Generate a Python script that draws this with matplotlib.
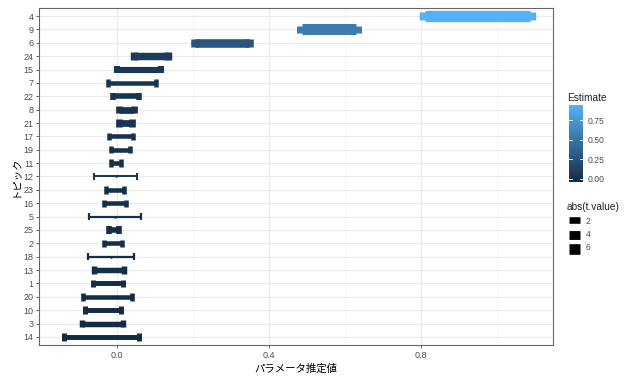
import numpy as np
import matplotlib
matplotlib.use('Agg')
import matplotlib.pyplot as plt
from matplotlib.colors import LinearSegmentedColormap, Normalize
from matplotlib.cm import ScalarMappable

plt.rcParams['font.family'] = ['Liberation Sans', 'Noto Sans CJK JP']

# Topic estimates, bottom row first
topics = ['14', '3', '10', '20', '1', '13', '18', '2', '25', '5', '16', '23', '12',
          '11', '19', '17', '21', '8', '22', '7', '15', '24', '6', '9', '4']
estimate = [-0.042, -0.040, -0.037, -0.026, -0.025, -0.021, -0.016, -0.012, -0.009, -0.006,
            -0.006, -0.005, -0.004, -0.003, 0.008, 0.010, 0.021, 0.024, 0.024, 0.039,
            0.056, 0.089, 0.276, 0.557, 0.947]
lower = [-0.140, -0.094, -0.086, -0.091, -0.065, -0.061, -0.077, -0.036, -0.023, -0.074,
         -0.035, -0.029, -0.060, -0.017, -0.016, -0.021, 0.004, 0.005, -0.010, -0.025,
         -0.002, 0.044, 0.204, 0.486, 0.810]
upper = [0.056, 0.014, 0.011, 0.039, 0.015, 0.018, 0.045, 0.012, 0.005, 0.062,
         0.022, 0.018, 0.051, 0.011, 0.033, 0.041, 0.039, 0.043, 0.057, 0.103,
         0.114, 0.134, 0.347, 0.628, 1.085]
abs_t = [1.0, 1.3, 1.0, 0.8, 1.0, 1.3, 0.1, 0.8, 1.35, 0.09,
         0.8, 0.8, 0.05, 0.8, 0.8, 0.8, 2.1, 2.1, 1.35, 0.8,
         1.7, 2.7, 3.7, 6.5, 7.0]
size_breaks = [2, 4, 6]
est_ticks = [0.0, 0.25, 0.5, 0.75]

cmap = LinearSegmentedColormap.from_list('est', ['#132B43', '#56B1F7'])
norm = Normalize(min(estimate), max(estimate))
t_lo, t_hi = np.sqrt(min(abs_t)), np.sqrt(max(abs_t))


def line_pt(t):
    # sqrt scale onto size 1..6, then to points
    size = 1 + 5 * (np.sqrt(t) - t_lo) / (t_hi - t_lo)
    return size * 1.9 * 0.72


def errorbarh(ax, y, x0, x1, lw, color, cap=0.28):
    ax.plot([x0, x1], [y, y], color=color, lw=lw, solid_capstyle='butt')
    for x in (x0, x1):
        ax.plot([x, x], [y - cap, y + cap], color=color, lw=lw, solid_capstyle='butt')


fig = plt.figure(figsize=(6.28, 3.76), dpi=100)
ax = fig.add_axes([39 / 628, 1 - 345 / 376, 514 / 628, 337 / 376])

ypos = np.arange(1, len(topics) + 1)
for y, e, lo, hi, t in zip(ypos, estimate, lower, upper, abs_t):
    c = cmap(norm(e))
    errorbarh(ax, y, lo, hi, line_pt(t), c)
    ax.plot(e, y, 'o', color=c, ms=1.8, mew=0)

ax.set_xlim(-0.206, 1.1466)
ax.set_ylim(0.4, len(topics) + 0.6)
ax.set_yticks(ypos)
ax.set_yticklabels(topics)
ax.set_xticks([0.0, 0.4, 0.8])
ax.set_xticklabels(['0.0', '0.4', '0.8'])
ax.set_xticks([0.2, 0.6, 1.0], minor=True)
ax.grid(True, which='major', color='#EBEBEB', lw=0.8)
ax.grid(True, which='minor', axis='x', color='#F2F2F2', lw=0.5)
ax.set_axisbelow(True)
ax.tick_params(axis='both', which='major', labelsize=6.5, colors='#4D4D4D',
               length=2.5, width=0.6, pad=1.5)
ax.tick_params(axis='both', which='minor', length=0)
for s in ax.spines.values():
    s.set_color('#666666')
    s.set_linewidth(0.8)
ax.set_xlabel('パラメータ推定値', fontsize=7.5, labelpad=3)
ax.set_ylabel('トピック', fontsize=7.5, labelpad=2)

# Colour legend
fig.text(567 / 628, 1 - 98 / 376, 'Estimate', fontsize=7.3, va='center', color='#222222')
cax = fig.add_axes([569 / 628, 1 - 182 / 376, 14 / 628, 77 / 376])
cb = fig.colorbar(ScalarMappable(norm=norm, cmap=cmap), cax=cax)
cb.outline.set_visible(False)
cb.set_ticks(est_ticks)
cb.set_ticklabels([f'{v:.2f}' for v in est_ticks])
cax.tick_params(length=0, labelsize=6.2, colors='#4D4D4D', pad=3)
for v in est_ticks:
    cax.plot([0, 0.2], [v, v], color='white', lw=0.6)
    cax.plot([0.8, 1], [v, v], color='white', lw=0.6)

# Size legend: plain thick keys
fig.text(567 / 628, 1 - 207 / 376, 'abs(t.value)', fontsize=7.3, va='center', color='#222222')
kax = fig.add_axes([566 / 628, 1 - 256 / 376, 20 / 628, 43 / 376])
kax.set_xlim(0, 1)
kax.set_ylim(0.5, 3.5)
kax.axis('off')
for i, t in enumerate(size_breaks):
    kax.plot([0.15, 0.7], [3 - i, 3 - i], color='black', lw=line_pt(t),
             solid_capstyle='butt')
    fig.text(586 / 628, 1 - (221 + 13.5 * i) / 376, str(t), fontsize=6.2,
             va='center', color='#4D4D4D')

fig.savefig('out.png', dpi=100)
